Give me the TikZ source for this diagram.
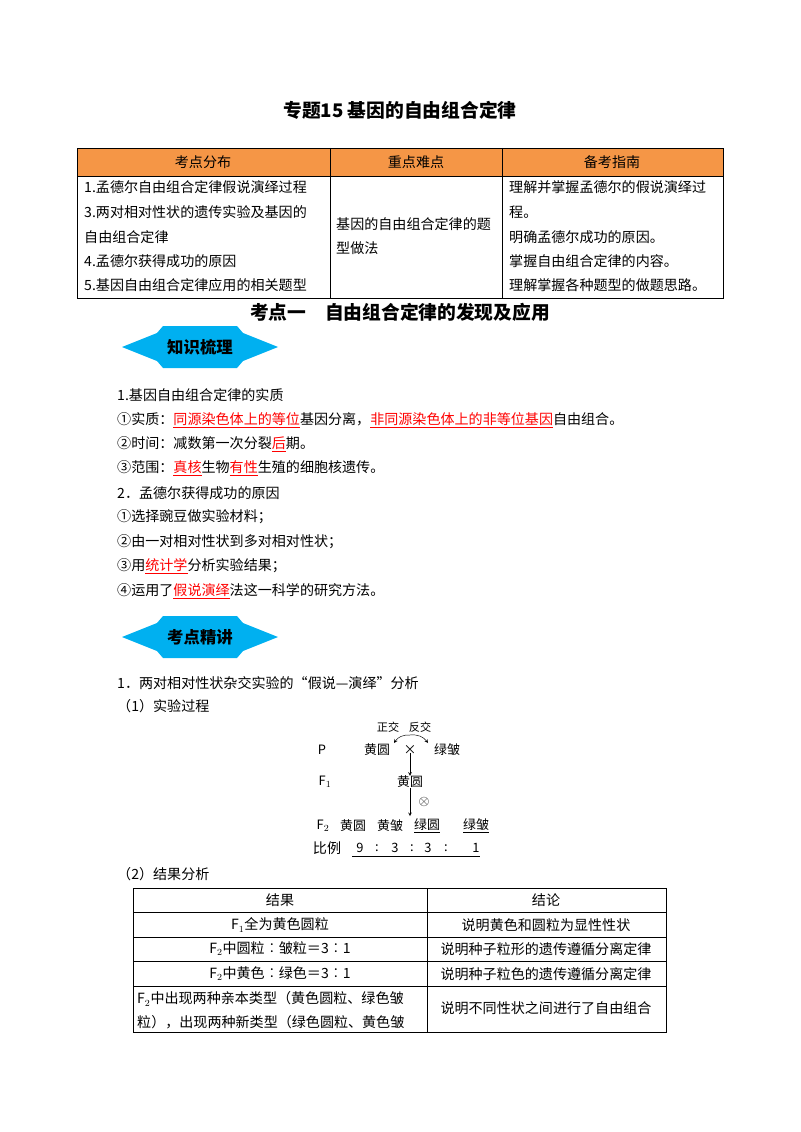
\documentclass[tikz,border=0pt]{standalone}
\usepackage{fontspec}
\setmainfont{Noto Sans CJK SC}
\usetikzlibrary{positioning}
\newcommand{\hlred}[1]{\textcolor{red}{\underline{#1}}}
\definecolor{hdrorange}{RGB}{245,150,70}
\definecolor{banner}{RGB}{0,176,240}
\tikzset{
  txt/.style={anchor=west,inner sep=0pt,font=\fontsize{12}{14}\selectfont},
  cell/.style={inner sep=0pt,font=\fontsize{12}{14}\selectfont},
  small/.style={inner sep=0pt,font=\fontsize{11}{13}\selectfont},
  head/.style={inner sep=0pt,font=\fontsize{16}{18}\bfseries\selectfont},
  grid/.style={draw=black,line width=0.5pt}
}
\begin{document}
\begin{tikzpicture}[x=0.03cm,y=-0.03cm]
\useasboundingbox (0,0) rectangle (800,1132);
\node[head] (title) at (400,110) {专题15 基因的自由组合定律};
% table one
\fill[hdrorange] (77,148) rectangle (723,176);
\draw[grid] (77,148) rectangle (723,298);
\draw[grid] (77,176) -- (723,176);
\draw[grid] (330,148) -- (330,298);
\draw[grid] (502,148) -- (502,298);
\node[cell] (h1) at (203,162) {考点分布};
\node[cell] (h2) at (416,162) {重点难点};
\node[cell] (h3) at (612,162) {备考指南};
\node[cell,anchor=west] (a1) at (84,187) {1.孟德尔自由组合定律假说演绎过程};
\node[cell,anchor=west] (a2) at (84,212) {3.两对相对性状的遗传实验及基因的};
\node[cell,anchor=west] (a3) at (84,237) {自由组合定律};
\node[cell,anchor=west] (a4) at (84,261) {4.孟德尔获得成功的原因};
\node[cell,anchor=west] (a5) at (84,285) {5.基因自由组合定律应用的相关题型};
\node[cell,anchor=west] (b1) at (336,224) {基因的自由组合定律的题};
\node[cell,anchor=west] (b2) at (336,248) {型做法};
\node[cell,anchor=west] (c1) at (509,187) {理解并掌握孟德尔的假说演绎过};
\node[cell,anchor=west] (c2) at (509,212) {程。};
\node[cell,anchor=west] (c3) at (509,237) {明确孟德尔成功的原因。};
\node[cell,anchor=west] (c4) at (509,261) {掌握自由组合定律的内容。};
\node[cell,anchor=west] (c5) at (509,285) {理解掌握各种题型的做题思路。};
\node[head] (sub) at (400,312) {考点一\quad 自由组合定律的发现及应用};
% banners
\foreach \by/\btxt/\bname in {347/知识梳理/ban1,637/考点精讲/ban2}{
  \fill[banner] (122,\by) -- (157,\by-14) -- (163,\by-21) -- (237,\by-21) -- (243,\by-14)
    -- (278,\by) -- (243,\by+14) -- (237,\by+21) -- (163,\by+21) -- (157,\by+14) -- cycle;
  \node[inner sep=0pt,font=\fontsize{14}{16}\bfseries\selectfont] (\bname) at (200,\by) {\btxt};
}
\node[txt] (t1) at (117,395) {1.基因自由组合定律的实质};
\node[txt] (t2) at (117,420) {①实质：\hlred{同源染色体上的等位}基因分离，\hlred{非同源染色体上的非等位基因}自由组合。};
\node[txt] (t3) at (117,444) {②时间：减数第一次分裂\hlred{后}期。};
\node[txt] (t4) at (117,468) {③范围：\hlred{真核}生物\hlred{有性}生殖的细胞核遗传。};
\node[txt] (t5) at (117,493) {2．孟德尔获得成功的原因};
\node[txt] (t6) at (117,517) {①选择豌豆做实验材料；};
\node[txt] (t7) at (117,542) {②由一对相对性状到多对相对性状；};
\node[txt] (t8) at (117,566) {③用\hlred{统计学}分析实验结果；};
\node[txt] (t9) at (117,591) {④运用了\hlred{假说演绎}法这一科学的研究方法。};
\node[txt] (u1) at (117,683) {1．两对相对性状杂交实验的“假说—演绎”分析};
\node[txt] (u2) at (117,706) {（1）实验过程};
% cross diagram
\node[small,font=\fontsize{9.5}{11}\selectfont] (zj) at (388,727) {正交};
\node[small,font=\fontsize{9.5}{11}\selectfont] (fj) at (420,727) {反交};
\node[small] (P) at (322,750) {P};
\node[small] (pY) at (377,750) {黄圆};
\node[small] (cross) at (410,750) {×};
\node[small] (pG) at (447,750) {绿皱};
\draw[->,>=stealth] (410,735) to[bend right=30] (394,743);
\draw[->,>=stealth] (410,735) to[bend left=30] (428,743);
\node[small] (F1) at (325,782) {F$_1$};
\node[small] (f1Y) at (410,782) {黄圆};
\draw[->,>=stealth] (cross.south) ++(0,-2) -- (f1Y.north);
\node[small,font=\fontsize{13}{14}\selectfont] (self) at (424,802) {$\otimes$};
\node[small] (F2) at (323,826) {F$_2$};
\node[small] (g1) at (353,826) {黄圆};
\node[small] (g2) at (390,826) {黄皱};
\node[small] (g3) at (427,826) {\underline{绿圆}};
\node[small] (g4) at (476,826) {\underline{绿皱}};
\draw[->,>=stealth] (f1Y.south) -- ++(0,28) coordinate (f2top);
\node[small,font=\fontsize{12}{14}\selectfont] (ratio) at (327,848) {比例};
\foreach \rx/\rt in {360/9,377/:,395/3,412/:,428/3,446/:,476/1}
  \node[small] at (\rx,848) {\rt};
\draw (352,856) -- (480,856);
\node[txt] (u3) at (117,874) {（2）结果分析};
% table two
\draw[grid] (133,888) rectangle (666,1032);
\foreach \ry in {912,937,961,986} \draw[grid] (133,\ry) -- (666,\ry);
\draw[grid] (427,888) -- (427,1032);
\node[cell] (r0a) at (280,900) {结果};
\node[cell] (r0b) at (546,900) {结论};
\node[cell] (r1a) at (280,925) {F$_1$全为黄色圆粒};
\node[cell] (r1b) at (546,925) {说明黄色和圆粒为显性性状};
\node[cell] (r2a) at (280,949) {F$_2$中圆粒︰皱粒＝3︰1};
\node[cell] (r2b) at (546,949) {说明种子粒形的遗传遵循分离定律};
\node[cell] (r3a) at (280,974) {F$_2$中黄色︰绿色＝3︰1};
\node[cell] (r3b) at (546,974) {说明种子粒色的遗传遵循分离定律};
\node[cell,anchor=west] (r4a) at (137,999) {F$_2$中出现两种亲本类型（黄色圆粒、绿色皱};
\node[cell,anchor=west] (r4c) at (137,1022) {粒），出现两种新类型（绿色圆粒、黄色皱};
\node[cell] (r4b) at (546,1008) {说明不同性状之间进行了自由组合};
\end{tikzpicture}
\end{document}
